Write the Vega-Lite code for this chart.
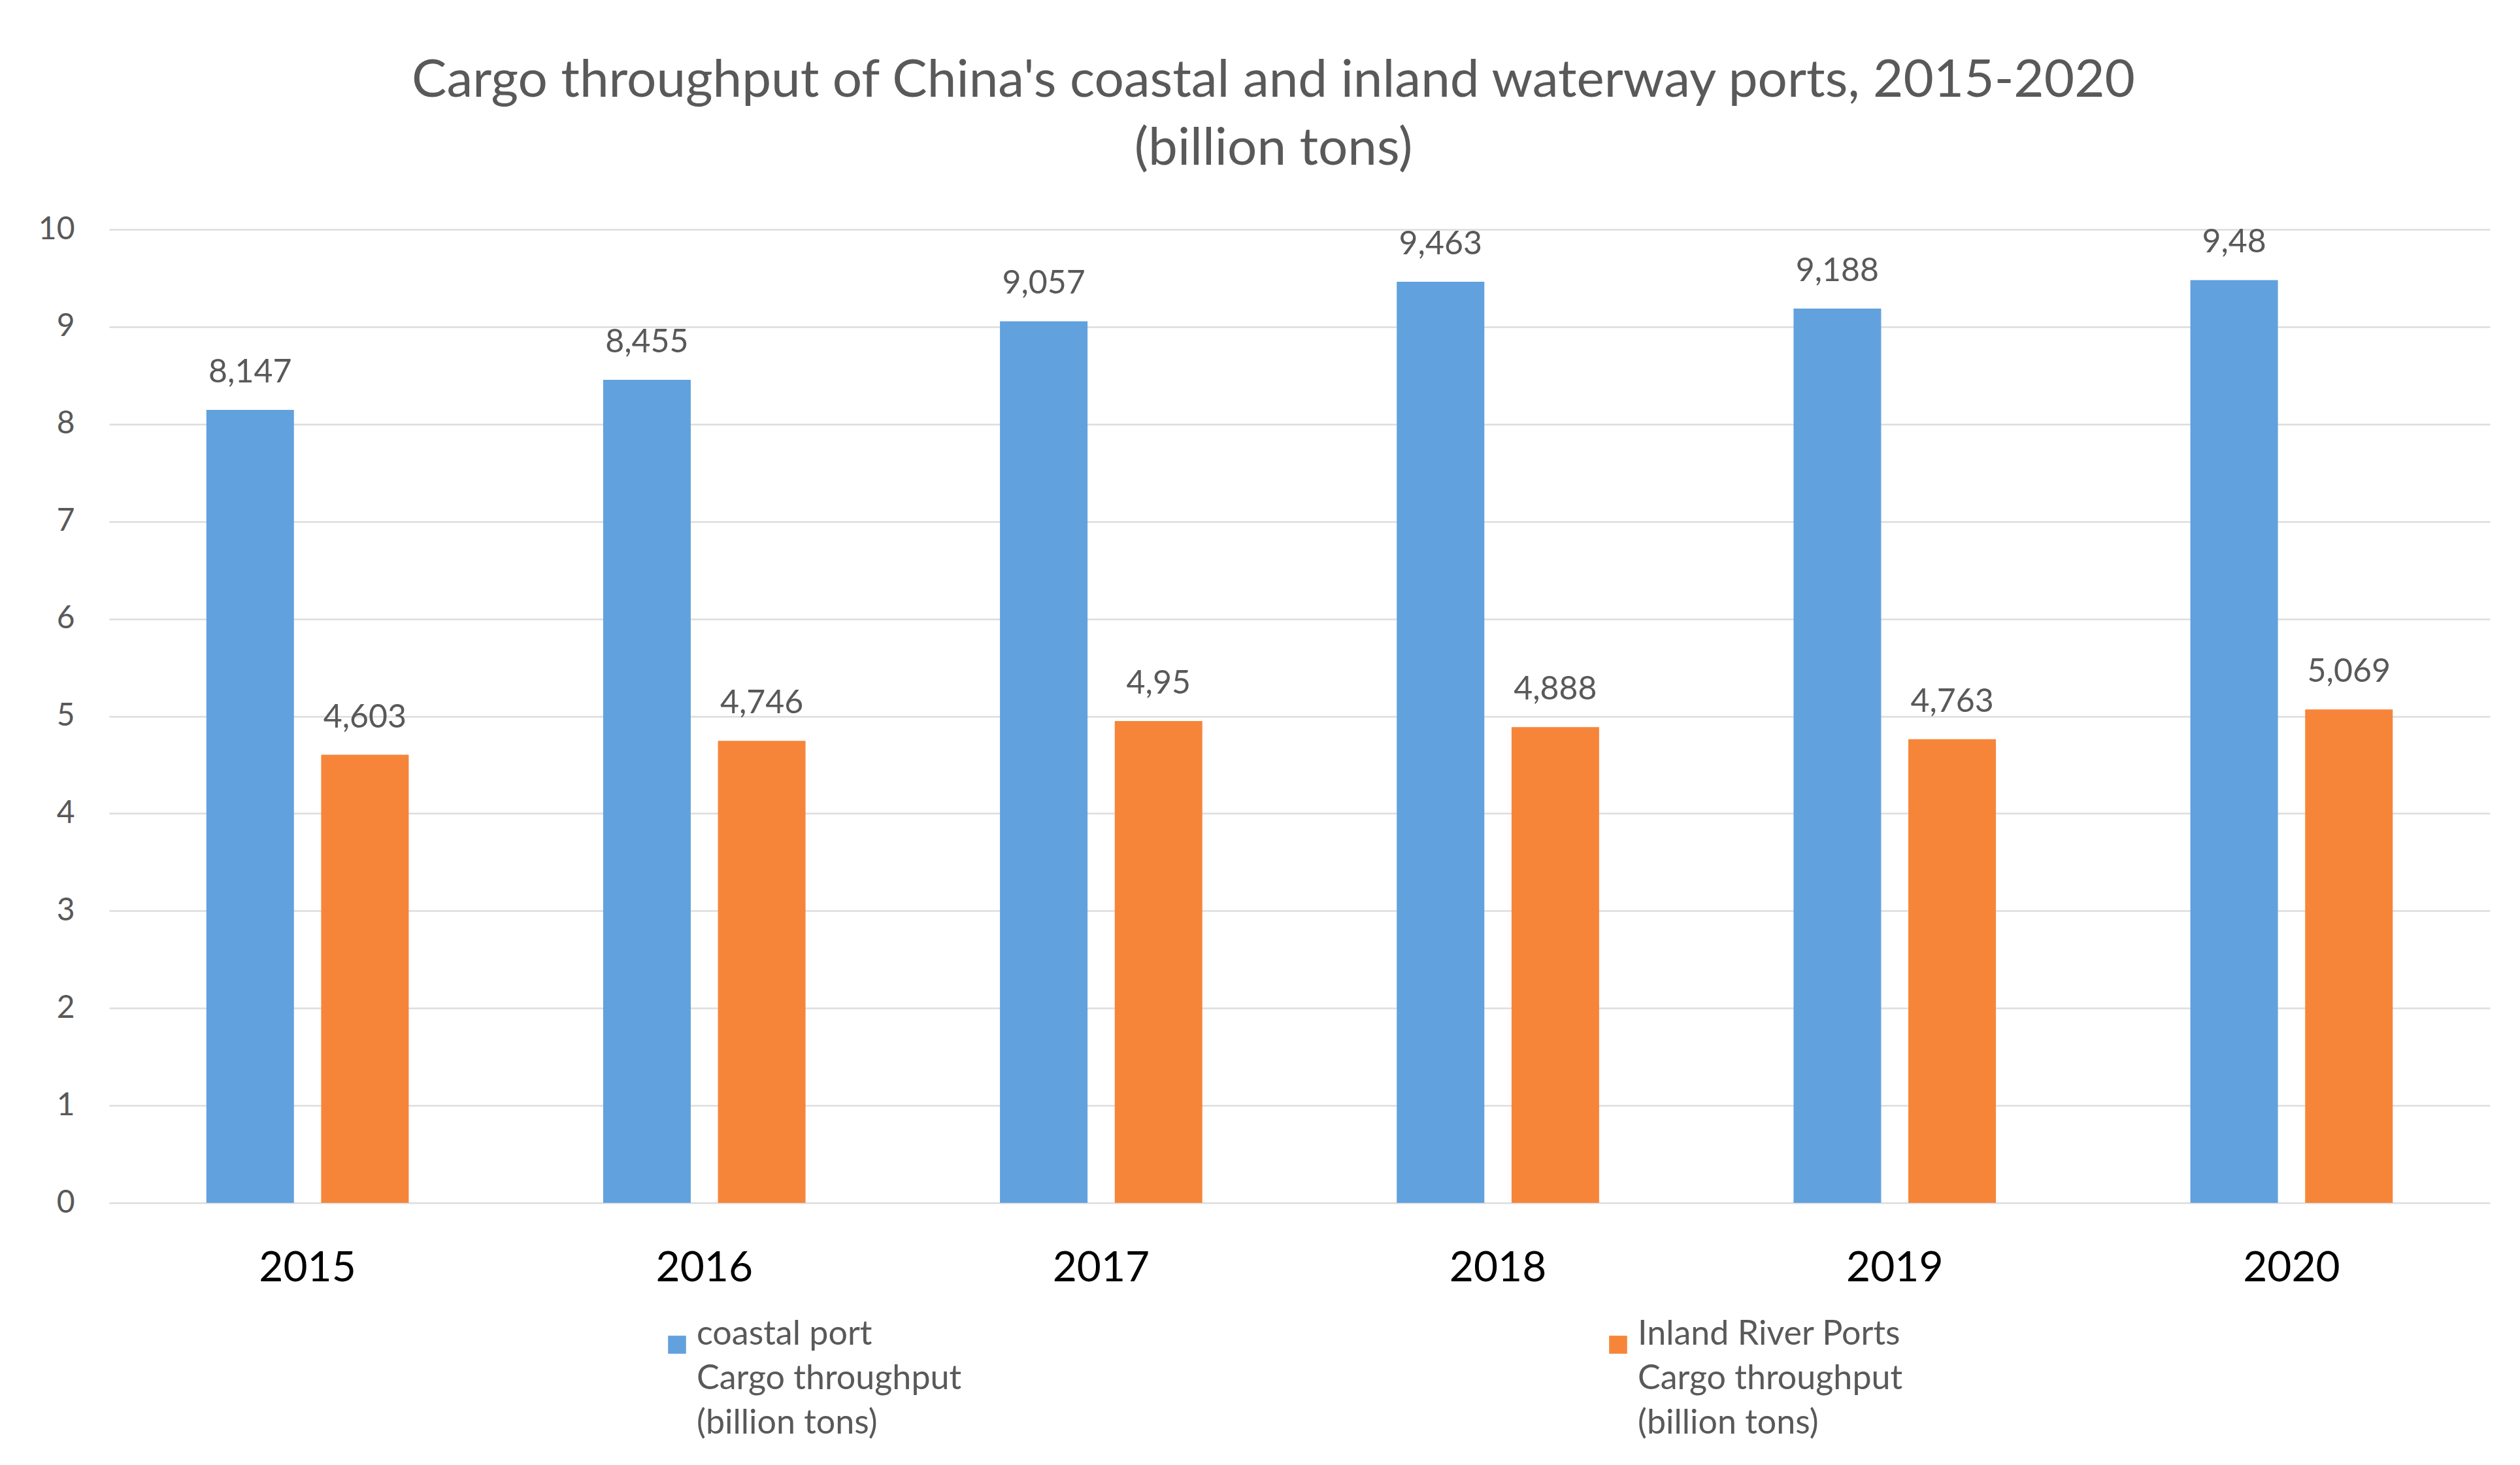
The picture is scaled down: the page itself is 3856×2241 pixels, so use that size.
{
  "$schema": "https://vega.github.io/schema/vega-lite/v6.json",
  "autosize": {"type": "none"},
  "width": 3643,
  "height": 1489,
  "padding": {"left": 167, "top": 351, "right": 46, "bottom": 401},
  "background": "white",
  "title": {
    "text": ["Cargo throughput of China's coastal and inland waterway ports, 2015-2020", "(billion tons)"],
    "font": "Lato",
    "fontSize": 80,
    "fontWeight": "normal",
    "color": "#595959",
    "lineHeight": 104,
    "anchor": "middle",
    "dx": -40,
    "offset": 58
  },
  "data": {
    "values": [
      {"year": "2015", "series": "coastal port|Cargo throughput|(billion tons)", "value": 8.147},
      {"year": "2015", "series": "Inland River Ports|Cargo throughput|(billion tons)", "value": 4.603},
      {"year": "2016", "series": "coastal port|Cargo throughput|(billion tons)", "value": 8.455},
      {"year": "2016", "series": "Inland River Ports|Cargo throughput|(billion tons)", "value": 4.746},
      {"year": "2017", "series": "coastal port|Cargo throughput|(billion tons)", "value": 9.057},
      {"year": "2017", "series": "Inland River Ports|Cargo throughput|(billion tons)", "value": 4.95},
      {"year": "2018", "series": "coastal port|Cargo throughput|(billion tons)", "value": 9.463},
      {"year": "2018", "series": "Inland River Ports|Cargo throughput|(billion tons)", "value": 4.888},
      {"year": "2019", "series": "coastal port|Cargo throughput|(billion tons)", "value": 9.188},
      {"year": "2019", "series": "Inland River Ports|Cargo throughput|(billion tons)", "value": 4.763},
      {"year": "2020", "series": "coastal port|Cargo throughput|(billion tons)", "value": 9.48},
      {"year": "2020", "series": "Inland River Ports|Cargo throughput|(billion tons)", "value": 5.069}
    ]
  },
  "encoding": {
    "x": {
      "field": "year",
      "type": "nominal",
      "scale": {"paddingInner": 0.49, "paddingOuter": 0.245},
      "axis": {
        "title": null,
        "labelAngle": 0,
        "labelFont": "Lato",
        "labelFontSize": 64,
        "labelColor": "#000000",
        "labelPadding": 68,
        "ticks": false,
        "domain": false,
        "grid": false
      }
    },
    "xOffset": {
      "field": "series",
      "type": "nominal",
      "scale": {
        "domain": ["coastal port|Cargo throughput|(billion tons)", "Inland River Ports|Cargo throughput|(billion tons)"],
        "paddingInner": 0.237,
        "paddingOuter": 0
      }
    },
    "y": {
      "field": "value",
      "type": "quantitative",
      "scale": {"domain": [0, 10], "nice": false},
      "axis": {
        "title": null,
        "values": [0, 1, 2, 3, 4, 5, 6, 7, 8, 9, 10],
        "labelFont": "Lato",
        "labelFontSize": 48,
        "labelColor": "#595959",
        "labelPadding": 53,
        "ticks": false,
        "domain": false,
        "grid": true,
        "gridColor": "#DDDDDD",
        "gridWidth": 2.5
      }
    }
  },
  "layer": [
    {
      "mark": {"type": "bar"},
      "encoding": {
        "color": {
          "field": "series",
          "type": "nominal",
          "scale": {
            "domain": ["coastal port|Cargo throughput|(billion tons)", "Inland River Ports|Cargo throughput|(billion tons)"],
            "range": ["#61A1DD", "#F6853A"]
          },
          "legend": {
            "title": null,
            "orient": "none",
            "legendX": 843,
            "legendY": 1680,
            "direction": "horizontal",
            "columnPadding": 978,
            "symbolType": "square",
            "symbolSize": 760,
            "symbolStrokeWidth": 0,
            "symbolOpacity": 1,
            "labelFont": "Lato",
            "labelFontSize": 52,
            "labelColor": "#595959",
            "labelOffset": 4,
            "labelLimit": 1000,
            "labelBaseline": "alphabetic",
            "labelExpr": "split(datum.label, '|')"
          }
        }
      }
    },
    {
      "mark": {
        "type": "text",
        "font": "Lato",
        "fontSize": 50,
        "color": "#595959",
        "baseline": "alphabetic",
        "dy": -42
      },
      "encoding": {
        "text": {"field": "value", "type": "quantitative", "format": "~g"}
      }
    }
  ],
  "config": {
    "view": {"stroke": null},
    "locale": {
      "number": {"decimal": ",", "thousands": ".", "grouping": [3], "currency": ["", " €"]}
    },
    "style": {"guide-label": {"lineHeight": 68}}
  }
}
